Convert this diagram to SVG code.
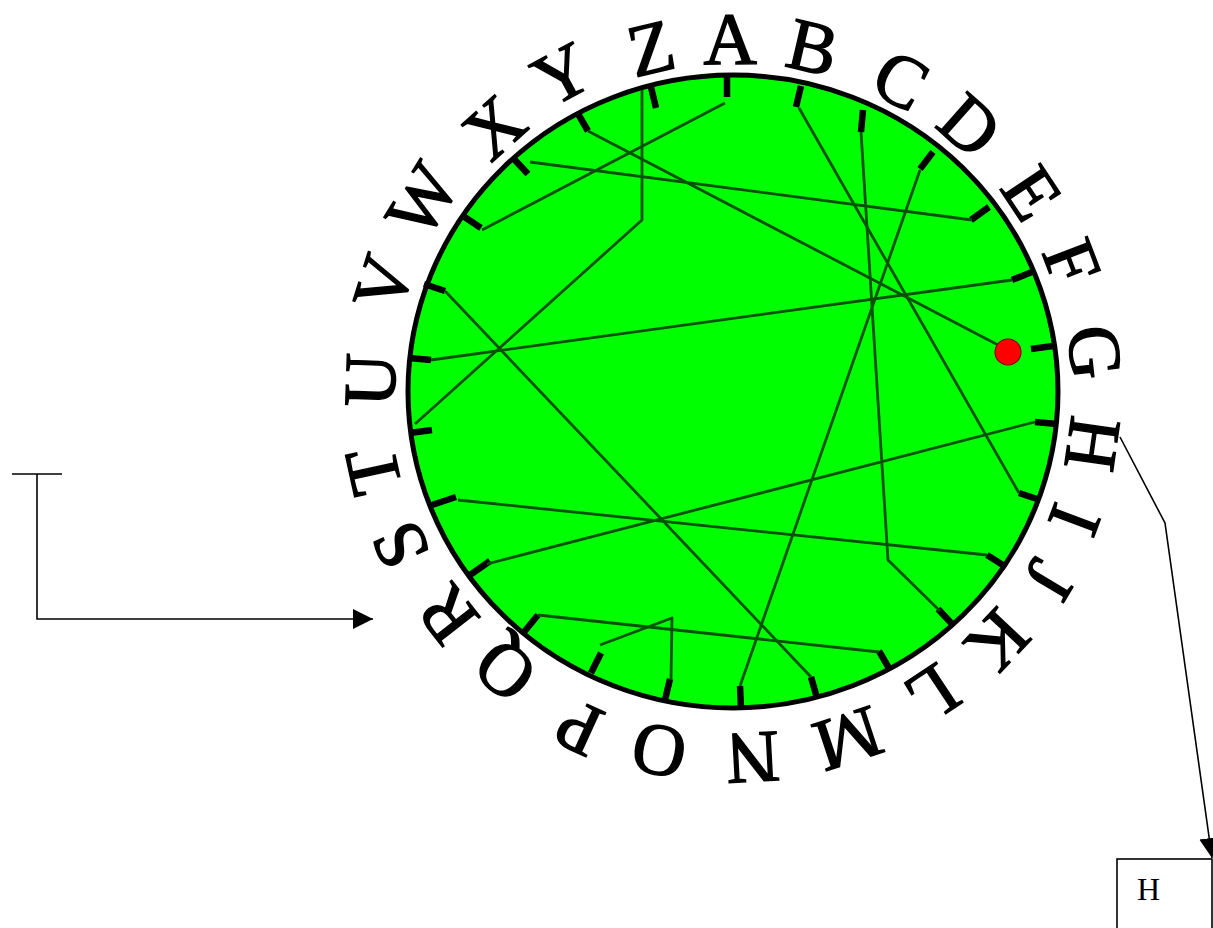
<svg xmlns="http://www.w3.org/2000/svg" width="1213" height="928" viewBox="0 0 1213 928">
<defs>
<style>
.rim{fill:#00ff00;stroke:#000;stroke-width:5}
.tick{stroke:#000;stroke-width:6.5;stroke-linecap:butt}
.wire{fill:none;stroke:#005200;stroke-width:2.8;stroke-linejoin:round}
.lbl{font-family:"Liberation Serif","Times New Roman",serif;font-size:74px;fill:#000;stroke:#000;stroke-width:1.4;text-anchor:middle}
.conn{fill:none;stroke:#000;stroke-width:1.6}
.boxr{fill:#fff;stroke:#000;stroke-width:1.6}
.boxt{font-family:"Liberation Serif","Times New Roman",serif;font-size:32px;fill:#000}
</style>
<marker id="arrow" markerUnits="userSpaceOnUse" markerWidth="20" markerHeight="20" viewBox="0 0 20 20" refX="20" refY="10" orient="auto">
<path d="M0,0 L20,10 L0,20 z" fill="#000"/>
</marker>
</defs>
<rect width="1213" height="928" fill="#fff"/>

<g id="rotor">
<ellipse class="rim" cx="733" cy="391.5" rx="325" ry="316.5"/>
<g id="ticks">
<line class="tick" x1="727" y1="75" x2="727" y2="97"/>
<line class="tick" x1="801" y1="86" x2="796" y2="107"/>
<line class="tick" x1="863" y1="110" x2="861" y2="132"/>
<line class="tick" x1="933" y1="152" x2="920" y2="169"/>
<line class="tick" x1="989" y1="207" x2="971" y2="220"/>
<line class="tick" x1="1032" y1="272" x2="1012" y2="280"/>
<line class="tick" x1="1053" y1="346" x2="1031" y2="349"/>
<line class="tick" x1="1057" y1="424" x2="1035" y2="422"/>
<line class="tick" x1="1040" y1="500" x2="1019" y2="493"/>
<line class="tick" x1="1006" y1="567" x2="987" y2="555"/>
<line class="tick" x1="953" y1="625" x2="938" y2="609"/>
<line class="tick" x1="890" y1="670" x2="879" y2="651"/>
<line class="tick" x1="817" y1="698" x2="811" y2="677"/>
<line class="tick" x1="741" y1="708" x2="740" y2="686"/>
<line class="tick" x1="665" y1="700" x2="670" y2="679"/>
<line class="tick" x1="591" y1="673" x2="601" y2="653"/>
<line class="tick" x1="524" y1="632" x2="538" y2="615"/>
<line class="tick" x1="470" y1="575" x2="490" y2="561"/>
<line class="tick" x1="432" y1="505" x2="456" y2="497"/>
<line class="tick" x1="410" y1="433" x2="432" y2="430"/>
<line class="tick" x1="409" y1="358" x2="431" y2="360"/>
<line class="tick" x1="424" y1="284" x2="445" y2="291"/>
<line class="tick" x1="463" y1="216" x2="481" y2="228"/>
<line class="tick" x1="513" y1="158" x2="528" y2="174"/>
<line class="tick" x1="577" y1="112" x2="588" y2="131"/>
<line class="tick" x1="651" y1="87" x2="656" y2="108"/>
</g>
</g>

<g id="wiring">
<polyline class="wire" points="725,103 482,230"/>
<polyline class="wire" points="799,108 1019,493"/>
<polyline class="wire" points="861,132 888,560 940,611"/>
<polyline class="wire" points="920,170 740,686"/>
<polyline class="wire" points="972,220 530,162"/>
<polyline class="wire" points="1012,280 431,360"/>
<polyline class="wire" points="1000,346 588,131"/>
<polyline class="wire" points="1035,422 487,564"/>
<polyline class="wire" points="987,555 458,500"/>
<polyline class="wire" points="879,652 538,615"/>
<polyline class="wire" points="811,677 445,291"/>
<polyline class="wire" points="671,680 672,618 600,645"/>
<polyline class="wire" points="415,424 642,220 642,90"/>
</g>

<g id="position-dot">
<circle cx="1008" cy="352" r="13" fill="#ff0000" stroke="#8b0000" stroke-width="1.2"/>
</g>

<g id="letters">
<g id="letter-A" transform="translate(730,39) rotate(-0.5)"><text class="lbl" x="0" y="25">A</text></g>
<g id="letter-B" transform="translate(813,47) rotate(13.1)"><text class="lbl" x="0" y="25">B</text></g>
<g id="letter-C" transform="translate(901,80) rotate(28.3)"><text class="lbl" x="0" y="25">C</text></g>
<g id="letter-D" transform="translate(970,125) rotate(41.6)"><text class="lbl" x="0" y="25">D</text></g>
<g id="letter-E" transform="translate(1032,193) rotate(56.4)"><text class="lbl" x="0" y="25">E</text></g>
<g id="letter-F" transform="translate(1072,262) rotate(69)"><text class="lbl" x="0" y="25">F</text></g>
<g id="letter-G" transform="translate(1095,352) rotate(83.7)"><text class="lbl" x="0" y="25">G</text></g>
<g id="letter-H" transform="translate(1093,444) rotate(98.2)"><text class="lbl" x="0" y="25">H</text></g>
<g id="letter-I" transform="translate(1075,520) rotate(110.5)"><text class="lbl" x="0" y="25">I</text></g>
<g id="letter-J" transform="translate(1050,580) rotate(120.7)"><text class="lbl" x="0" y="25">J</text></g>
<g id="letter-K" transform="translate(998,641) rotate(133.2)"><text class="lbl" x="0" y="25">K</text></g>
<g id="letter-L" transform="translate(933,694) rotate(146.5)"><text class="lbl" x="0" y="25">L</text></g>
<g id="letter-M" transform="translate(848,739) rotate(161.7)"><text class="lbl" x="0" y="25">M</text></g>
<g id="letter-N" transform="translate(753,758) rotate(176.9)"><text class="lbl" x="0" y="25">N</text></g>
<g id="letter-O" transform="translate(659,751) rotate(191.6)"><text class="lbl" x="0" y="25">O</text></g>
<g id="letter-P" transform="translate(579,728) rotate(204.6)"><text class="lbl" x="0" y="25">P</text></g>
<g id="letter-Q" transform="translate(505,671) rotate(219.3)"><text class="lbl" x="0" y="25">Q</text></g>
<g id="letter-R" transform="translate(447,615) rotate(232)"><text class="lbl" x="0" y="25">R</text></g>
<g id="letter-S" transform="translate(400,545) rotate(245.3)"><text class="lbl" x="0" y="25">S</text></g>
<g id="letter-T" transform="translate(373,471) rotate(257.6)"><text class="lbl" x="0" y="25">T</text></g>
<g id="letter-U" transform="translate(370,380) rotate(271.9)"><text class="lbl" x="0" y="25">U</text></g>
<g id="letter-V" transform="translate(383,283) rotate(287.3)"><text class="lbl" x="0" y="25">V</text></g>
<g id="letter-W" transform="translate(422,200) rotate(301.7)"><text class="lbl" x="0" y="25">W</text></g>
<g id="letter-X" transform="translate(494,127) rotate(318)"><text class="lbl" x="0" y="25">X</text></g>
<g id="letter-Y" transform="translate(562,74) rotate(331.7)"><text class="lbl" x="0" y="25">Y</text></g>
<g id="letter-Z" transform="translate(651,48) rotate(346.6)"><text class="lbl" x="0" y="25">Z</text></g>
</g>

<g id="box-H">
<rect class="boxr" x="1117" y="859" width="95" height="100"/>
<text class="boxt" x="1137" y="900">H</text>
</g>

<g id="connectors">
<path class="conn" d="M12,474 H62 M37,474 V619 H373" marker-end="url(#arrow)"/>
<path class="conn" d="M1120,437 L1165,523 L1212,858" marker-end="url(#arrow)"/>
</g>
</svg>
